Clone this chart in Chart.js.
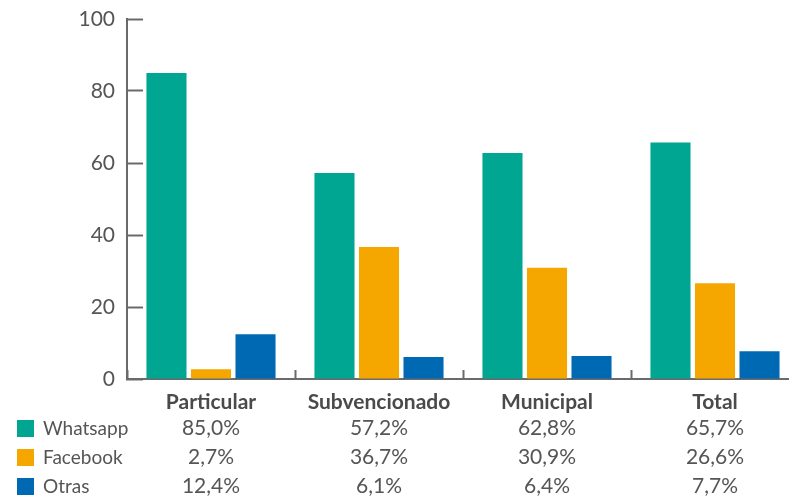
<!DOCTYPE html>
<html>
<head>
<meta charset="utf-8">
<script src="https://cdn.jsdelivr.net/npm/chart.js@4/dist/chart.umd.min.js"></script>
<style>
  html, body { margin: 0; padding: 0; background: #fff; overflow: hidden; }
  #wrap { width: 789px; height: 498px; overflow: hidden; }
</style>
</head>
<body>
<div id="wrap"><canvas id="redesChart" width="800" height="498"></canvas></div>
<script>
var categories = ["Particular", "Subvencionado", "Municipal", "Total"];
var seriesNames = ["Whatsapp", "Facebook", "Otras"];
var whatsapp = [85.0, 57.2, 62.8, 65.7];
var facebook = [2.7, 36.7, 30.9, 26.6];
var otras = [12.4, 6.1, 6.4, 7.7];
var yTicks = [0, 20, 40, 60, 80, 100];

var barColors = ["#00a692", "#f5a700", "#0069b4"];
var textColor = "#555555";
var axisColor = "#6a6a6a";

function pct(v) {
    return v.toFixed(1).replace(".", ",") + "%";
}

// data table + legend under the axis
var tablePlugin = {
    id: "tablePlugin",
    afterDraw: function(chart) {
        var ctx = chart.ctx;
        var x = chart.scales.x;
        var bottom = chart.chartArea.bottom;
        ctx.save();
        ctx.fillStyle = textColor;
        ctx.textBaseline = "alphabetic";
        chart.data.datasets.forEach(function(ds, i) {
            var baseY = bottom + 56 + i * 29;
            ctx.fillStyle = ds.backgroundColor;
            ctx.fillRect(17, baseY - 15, 17, 17);
            ctx.fillStyle = textColor;
            ctx.font = "19px Lato";
            ctx.textAlign = "left";
            ctx.fillText(ds.label, 43, baseY);
            ctx.font = "21px Lato";
            ctx.textAlign = "center";
            ds.data.forEach(function(v, j) {
                ctx.fillText(pct(v), x.getPixelForValue(j), baseY);
            });
        });
        ctx.restore();
    }
};

var chart = new Chart("redesChart", {
    type: "bar",
    data: {
        labels: categories,
        datasets: [
            { label: seriesNames[0], data: whatsapp, backgroundColor: barColors[0] },
            { label: seriesNames[1], data: facebook, backgroundColor: barColors[1] },
            { label: seriesNames[2], data: otras, backgroundColor: barColors[2] }
        ]
    },
    options: {
        responsive: false,
        animation: false,
        devicePixelRatio: 1,
        categoryPercentage: 0.795,
        barPercentage: 0.9,
        layout: { padding: { top: 19, right: 1, left: 0, bottom: 0 } },
        plugins: {
            legend: { display: false },
            title: { display: false },
            tooltip: { enabled: false }
        },
        scales: {
            x: {
                afterFit: function(scale) { scale.height = 119; },
                border: { display: true, color: axisColor, width: 2 },
                grid: {
                    offset: true,
                    drawOnChartArea: false,
                    drawTicks: true,
                    tickLength: -9,
                    tickWidth: 2,
                    tickColor: axisColor
                },
                ticks: {
                    padding: 20,
                    color: "#4a4a4a",
                    font: { family: "Lato", size: 21, weight: "bold" }
                }
            },
            y: {
                min: 0,
                max: 100,
                afterFit: function(scale) {
                    scale.width = 127;
                    scale.paddingTop = 0;
                    scale.paddingBottom = 0;
                },
                afterBuildTicks: function(scale) {
                    scale.ticks = yTicks.map(function(v) { return { value: v }; });
                },
                border: { display: true, color: axisColor, width: 2 },
                grid: {
                    drawOnChartArea: false,
                    drawTicks: true,
                    tickLength: -16,
                    tickWidth: 2,
                    tickColor: axisColor
                },
                ticks: {
                    padding: 28,
                    color: textColor,
                    font: { family: "Lato", size: 21 }
                }
            }
        }
    },
    plugins: [tablePlugin]
});
</script>
</body>
</html>
